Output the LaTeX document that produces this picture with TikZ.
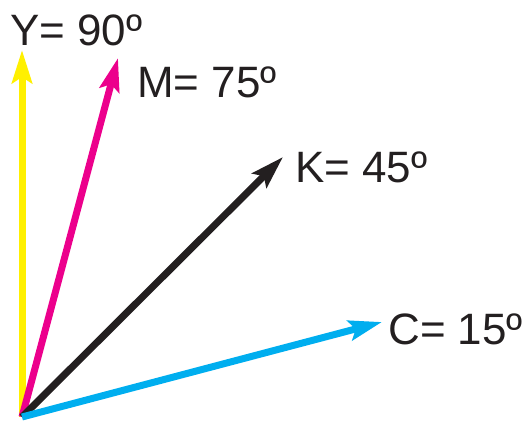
\documentclass[tikz,border=0pt]{standalone}
\usepackage{fontspec}
\setmainfont{Liberation Sans}
\usetikzlibrary{arrows.meta}
\definecolor{inkY}{RGB}{255,240,0}
\definecolor{inkM}{RGB}{236,0,140}
\definecolor{inkK}{RGB}{35,31,32}
\definecolor{inkC}{RGB}{0,174,239}
\tikzset{
  vec/.style={line width=0.14cm, -{Stealth[length=0.66cm,width=0.40cm,inset=0.12cm]}},
  lab/.style={anchor=base west, inner sep=0pt, text=inkK,
              font=\fontsize{25}{29}\selectfont},
}
\begin{document}
\begin{tikzpicture}
  \useasboundingbox (0,0) rectangle (10.52,8.42);
  % common origin and vector tips
  \coordinate (O) at (0.44,0.08);
  \coordinate (ytip) at (0.44,7.42);
  \coordinate (mtip) at (2.36,7.26);
  \coordinate (ktip) at (5.66,5.28);
  \coordinate (ctip) at (7.64,1.98);
  % vectors
  \draw[vec,inkY] (O) -- (ytip);
  \draw[vec,inkM] (O) -- (mtip);
  \draw[vec,inkK] (O) -- (ktip);
  \draw[vec,inkC] (O) -- (ctip);
  % labels
  \node[lab] (ylab) at (0.20,7.52) {Y= 90º};
  \node[lab] (mlab) at (2.74,6.48) {M= 75º};
  \node[lab] (klab) at (5.90,4.78) {K= 45º};
  \node[lab] (clab) at (7.76,1.54) {C= 15º};
\end{tikzpicture}
\end{document}
